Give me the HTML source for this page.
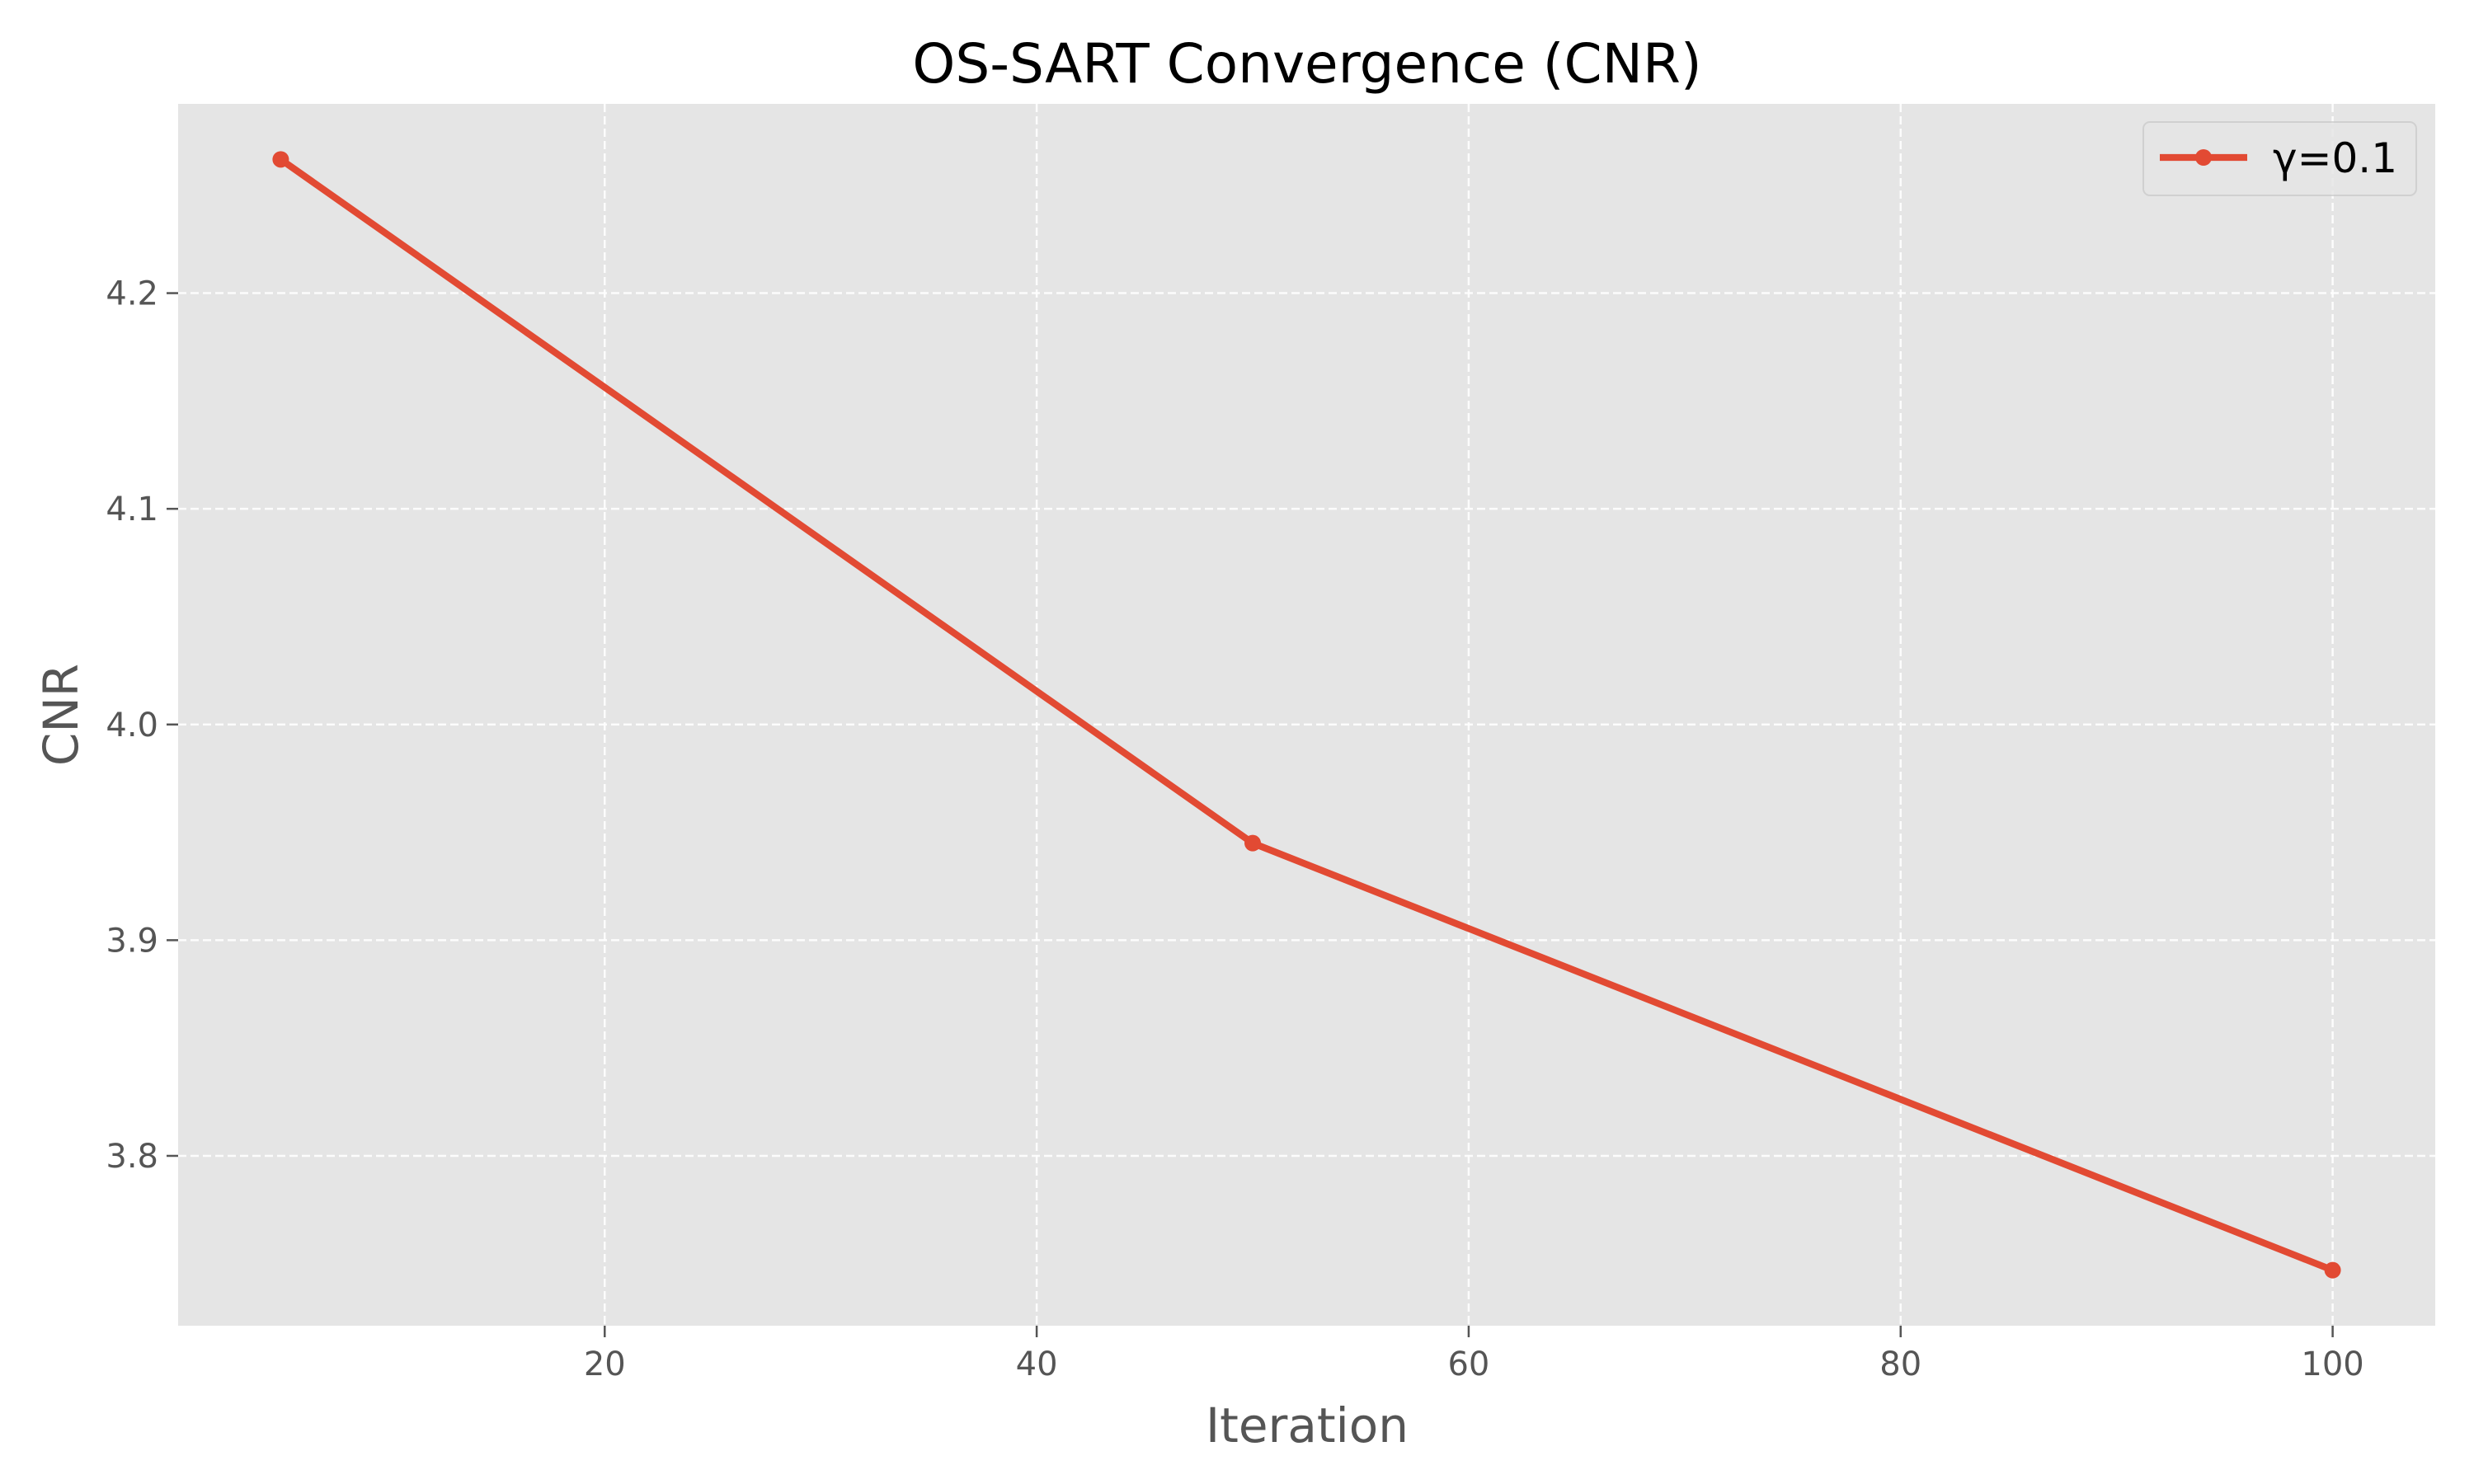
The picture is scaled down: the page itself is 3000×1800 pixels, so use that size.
<!DOCTYPE html>
<html><head><meta charset="utf-8"><style>body{margin:0;background:#fff}svg{display:block}text{font-family:"DejaVu Sans","Liberation Sans",sans-serif}</style></head>
<body>
<svg id="chart" width="3000" height="1800" viewBox="0 0 3000 1800">
<rect x="216" y="126" width="2737" height="1482" fill="#E5E5E5"/>
<g id="grid"></g><g id="ticks"></g><g id="series"></g>
<text x="1585" y="100" font-size="66" text-anchor="middle" fill="#000">OS-SART Convergence (CNR)</text>
<text x="1585" y="1749" font-size="58" text-anchor="middle" fill="#555">Iteration</text>
<text transform="translate(94,867) rotate(-90)" font-size="58" text-anchor="middle" fill="#555">CNR</text>
<g>
<rect x="2599" y="148" width="331" height="89" rx="8" fill="#E5E5E5" stroke="#ccc" stroke-width="2" opacity="0.8"/>
<line x1="2619" y1="191" x2="2725" y2="191" stroke="#E24A33" stroke-width="8.3"/>
<circle cx="2672" cy="191" r="10" fill="#E24A33"/>
<text x="2756" y="209" font-size="50" fill="#000">γ=0.1</text>
</g>
</svg>
<script>
const iterations=[5,50,100];
const cnrValues=[4.262,3.945,3.747];
const xTicks=[20,40,60,80,100];
const yTicks=[3.8,3.9,4.0,4.1,4.2];
const yTickLabels=["3.8","3.9","4.0","4.1","4.2"];
const L=216,R=2953,T=126,B=1608;
const xmin=Math.min(...iterations),xmax=Math.max(...iterations),xm=(xmax-xmin)*0.05;
const ymin=Math.min(...cnrValues),ymax=Math.max(...cnrValues),ym=(ymax-ymin)*0.05;
const X=v=>L+(v-(xmin-xm))/((xmax+xm)-(xmin-xm))*(R-L);
const Y=v=>B-(v-(ymin-ym))/((ymax+ym)-(ymin-ym))*(B-T);
const NS="http://www.w3.org/2000/svg";
function mk(t,a,p){const e=document.createElementNS(NS,t);for(const k in a)e.setAttribute(k,a[k]);p.appendChild(e);return e;}
const g=document.getElementById('grid'),tk=document.getElementById('ticks'),s=document.getElementById('series');
xTicks.forEach(v=>{const x=X(v);
const gl=mk('line',{x1:x,x2:x,y1:T,y2:B,stroke:'#fff','stroke-width':2.5,'stroke-dasharray':'10 5',opacity:0.9},g);

mk('line',{x1:x,x2:x,y1:B,y2:B+14,stroke:'#555','stroke-width':2.5},tk);
const t=mk('text',{x:x,y:B+60,'font-size':40,'text-anchor':'middle',fill:'#555'},tk);t.textContent=v;
});
yTicks.forEach((v,i)=>{const y=Y(v);
const gl=mk('line',{x1:L,x2:R,y1:y,y2:y,stroke:'#fff','stroke-width':2.5,'stroke-dasharray':'10 5',opacity:0.9},g);

mk('line',{x1:L-14,x2:L,y1:y,y2:y,stroke:'#555','stroke-width':2.5},tk);
const t=mk('text',{x:L-24,y:y+14,'font-size':40,'text-anchor':'end',fill:'#555'},tk);t.textContent=yTickLabels[i];
});
const pl=mk('polyline',{points:iterations.map((v,i)=>X(v)+','+Y(cnrValues[i])).join(' '),fill:'none',stroke:'#E24A33','stroke-width':8.3,'stroke-linejoin':'round'},s);

iterations.forEach((v,i)=>{const c=mk('circle',{cx:X(v),cy:Y(cnrValues[i]),r:10,fill:'#E24A33'},s);
});
</script>
</body></html>
